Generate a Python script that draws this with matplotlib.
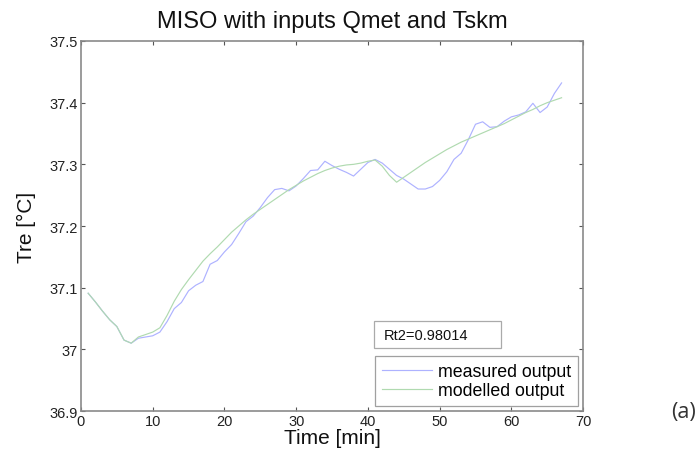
import numpy as np
import matplotlib
matplotlib.use('Agg')
import matplotlib.pyplot as plt
from matplotlib.patches import Rectangle

# Time axis in minutes
time_min = list(range(1, 68))

# Measured rectal temperature
tre_measured = [37.091, 37.077, 37.062, 37.048, 37.037, 37.015, 37.010, 37.018, 37.020, 37.022,
                37.028, 37.045, 37.066, 37.076, 37.095, 37.104, 37.110, 37.138, 37.144, 37.158,
                37.170, 37.188, 37.207, 37.216, 37.230, 37.246, 37.259, 37.261, 37.257, 37.265,
                37.277, 37.290, 37.291, 37.305, 37.298, 37.292, 37.287, 37.281, 37.292, 37.303,
                37.308, 37.302, 37.292, 37.282, 37.276, 37.268, 37.260, 37.260, 37.264, 37.274,
                37.288, 37.308, 37.318, 37.340, 37.365, 37.369, 37.360, 37.361, 37.370, 37.377,
                37.380, 37.385, 37.399, 37.384, 37.393, 37.415, 37.432]

# MISO model output
tre_modelled = [37.091, 37.077, 37.062, 37.048, 37.037, 37.015, 37.010, 37.020, 37.024, 37.028,
                37.035, 37.055, 37.078, 37.097, 37.113, 37.128, 37.143, 37.155, 37.166, 37.178,
                37.190, 37.200, 37.210, 37.219, 37.227, 37.235, 37.243, 37.251, 37.259, 37.266,
                37.273, 37.279, 37.285, 37.290, 37.294, 37.297, 37.299, 37.300, 37.302, 37.305,
                37.307, 37.297, 37.282, 37.271, 37.279, 37.287, 37.295, 37.303, 37.310, 37.317,
                37.324, 37.330, 37.336, 37.341, 37.346, 37.351, 37.356, 37.361, 37.366, 37.372,
                37.378, 37.384, 37.389, 37.395, 37.400, 37.404, 37.408]

rt2 = 0.98014

plt.rcParams['font.family'] = ['Liberation Sans', 'DejaVu Sans']

fig = plt.figure(figsize=(7, 4.6), dpi=100)
ax = fig.add_axes([0.1157, 0.1043, 0.7173, 0.8044])

ax.plot(time_min, tre_measured, color='#aeb2ff', linewidth=0.85, label='measured output')
ax.plot(time_min, tre_modelled, color='#b0dab0', linewidth=0.85, label='modelled output')

ax.set_xlim(0, 70)
ax.set_ylim(36.9, 37.5)
ax.set_xticks(range(0, 71, 10))
ax.set_yticks([36.9, 37.0, 37.1, 37.2, 37.3, 37.4, 37.5])
ax.set_yticklabels(['36.9', '37', '37.1', '37.2', '37.3', '37.4', '37.5'])
ax.tick_params(direction='in', length=3, width=0.8, color='#555555', top=True, right=True,
               labelsize=10.5, labelcolor='#222222', pad=2)
for sp in ax.spines.values():
    sp.set_color('#8a8a8a')
    sp.set_linewidth(1.2)

ax.set_title('MISO with inputs Qmet and Tskm', fontsize=17, color='#111111', pad=10)
ax.set_xlabel('Time [min]', fontsize=15, color='#111111', labelpad=0)
ax.set_ylabel('Tre [\u00b0C]', fontsize=15, color='#111111', labelpad=10)

leg = ax.legend(loc='lower right', bbox_to_anchor=(0.99, 0.0135), fontsize=12.8,
                frameon=True, fancybox=False, borderpad=0.4, handlelength=2.8,
                handletextpad=0.34, labelspacing=0.12, borderaxespad=0)
leg.get_frame().set_edgecolor('#888888')
leg.get_frame().set_linewidth(0.9)

# Fit statistic in its own framed box above the legend
ax.add_patch(Rectangle((0.584, 0.170), 0.253, 0.073, transform=ax.transAxes,
                       facecolor='white', edgecolor='#aaaaaa', linewidth=0.9, zorder=4))
ax.text(0.602, 0.2065, 'Rt2=%.5f' % rt2, transform=ax.transAxes, fontsize=10.5,
        va='center', ha='left', color='#111111', zorder=5)

fig.text(0.977, 0.104, '(a)', fontsize=15.5, family=['Open Sans', 'DejaVu Sans'],
         color='#333333', ha='center', va='center')

fig.savefig('out.png', dpi=100)
